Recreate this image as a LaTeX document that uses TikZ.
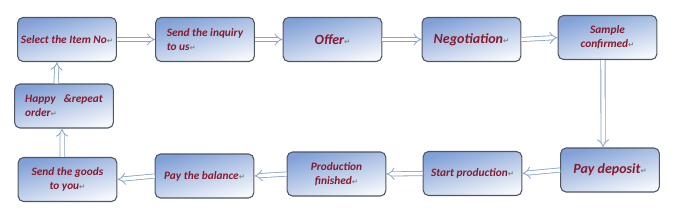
\documentclass[tikz,border=0pt]{standalone}
\usepackage{fontspec}
\setmainfont{Carlito}
\newfontfamily\symfont{DejaVu Sans}
\usetikzlibrary{arrows.meta}
\definecolor{boxblue}{RGB}{128,160,214}
\definecolor{boxline}{RGB}{78,86,98}
\definecolor{textred}{RGB}{136,26,46}
\definecolor{arrowline}{RGB}{140,162,196}
\newcommand{\retmark}{{\symfont\fontsize{5.5}{5.5}\selectfont\textcolor{gray}{↵}}}

\begin{document}
\begin{tikzpicture}[x=0.75pt,y=0.75pt,yscale=-1,
  box/.style={rounded corners=4pt, draw=boxline, line width=0.8pt,
    top color=boxblue, bottom color=boxblue!8!white, shading angle=15,
    minimum width=74pt, minimum height=33pt, inner sep=2pt,
    text=textred, align=center, font=\bfseries\itshape\fontsize{8.5}{10.5}\selectfont},
  bigbox/.style={box, font=\bfseries\itshape\fontsize{10.5}{12}\selectfont},
  flow/.style={draw=arrowline, line width=0.6pt, double=white, double distance=2.6pt,
    -{Implies[length=4pt,width=9pt]}}]
\useasboundingbox (0,0) rectangle (675,215);

% top row
\node[box] (select) at (67,39.5) {Select the Item No\retmark};
\node[box, align=left] (inquiry) at (205,39.5) {Send the inquiry\\to us\retmark};
\node[bigbox] (offer) at (332.5,39.5) {Offer\retmark};
\node[bigbox] (negotiation) at (471.5,39.5) {Negotiation\retmark};
\node[box] (sample) at (607.5,37.5) {Sample\\confirmed\retmark};

% left side
\node[box, align=left] (happy) at (64,106) {Happy\enspace\ \&repeat\\order\retmark};

% bottom row
\node[bigbox] (deposit) at (610,170) {Pay deposit\retmark};
\node[box] (start) at (472.5,173.5) {Start production\retmark};
\node[box] (finished) at (336.5,174) {Production\\finished\retmark};
\node[box] (balance) at (204.5,176) {Pay the balance\retmark};
\node[box] (goods) at (67.5,179.5) {Send the goods\\to you\retmark};

% connectors
\draw[flow] (select.east) -- (inquiry.west);
\draw[flow] (inquiry.east) -- (offer.west);
\draw[flow] (offer.east) -- (negotiation.west);
\draw[flow] (negotiation.east) -- (sample.west);
\draw[flow] ([xshift=-3.4pt]sample.south) -- ([xshift=-5.2pt]deposit.north);
\draw[flow] (deposit.west) -- (start.east);
\draw[flow] (start.west) -- (finished.east);
\draw[flow] (finished.west) -- (balance.east);
\draw[flow] (balance.west) -- (goods.east);
\draw[flow] ([xshift=-4pt]goods.north) -- ([xshift=-1.5pt]happy.south);
\draw[flow] ([xshift=-6pt]happy.north) -- ([xshift=-7.5pt]select.south);

\end{tikzpicture}
\end{document}
